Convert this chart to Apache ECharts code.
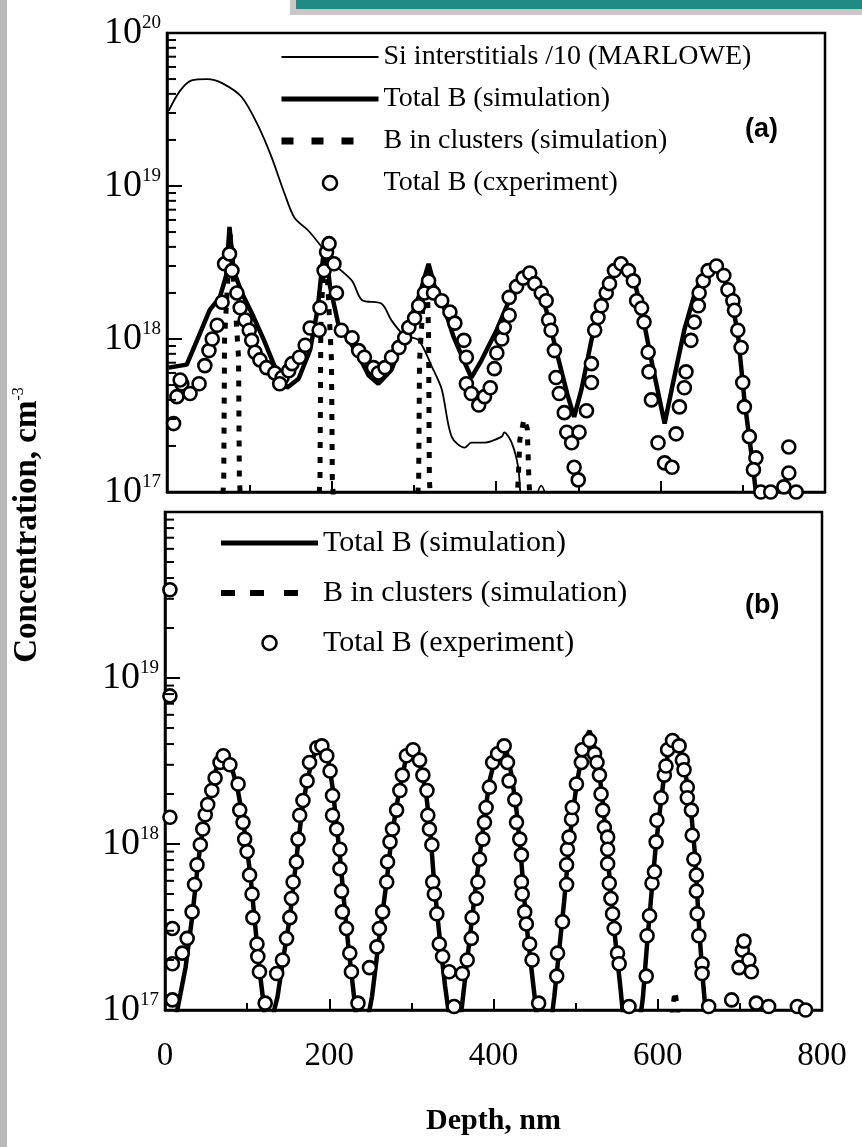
<!DOCTYPE html>
<html>
<head>
<meta charset="utf-8">
<script src="https://cdn.jsdelivr.net/npm/echarts@6/dist/echarts.min.js"></script>
<style>
html,body{margin:0;padding:0;background:#fff;}
#chart{width:862px;height:1147px;}
</style>
</head>
<body>
<div id="chart"></div>
<script>
// ---------- data (depth in nm, concentration in cm^-3) ----------
const depthTicks = [0, 200, 400, 600, 800];
const logMinorTicks = [2e17,3e17,4e17,5e17,6e17,7e17,8e17,9e17,
                       2e18,3e18,4e18,5e18,6e18,7e18,8e18,9e18,
                       2e19,3e19,4e19,5e19,6e19,7e19,8e19,9e19];

// Panel (a)
const siInterstitialsA = [
 [2,3.1e19],[16,4.2e19],[30,4.9e19],[49,5.0e19],[67,4.7e19],[91,3.8e19],[112,2.4e19],[127,1.55e19],
 [143,8.9e18],[155,6.2e18],[172,5.1e18],[188,4.0e18],[203,3.1e18],[225,2.4e18],[237,1.8e18],[261,1.7e18],
 [273,1.32e18],[289,1.05e18],[306,9.8e17],[322,6.6e17],[334,4.7e17],[346,2.3e17],[362,1.95e17],[370,2.1e17],
 [386,2.1e17],[407,2.3e17],[410,2.45e17],[419,2.1e17],[427,1.45e17],[431,8.5e16],[440,6e16],[448,9e16],
 [455,1.1e17],[462,9e16],[470,6e16]
];
const totalBSimA = [
 [2,6.5e17],[24,6.8e17],[42,1.15e18],[52,1.55e18],[64,1.86e18],[72,2.6e18],[76,5.4e18],[81,2.8e18],
 [91,2.0e18],[103,1.48e18],[118,9.8e17],[134,6.0e17],[146,4.8e17],[160,5.5e17],[174,8.5e17],[183,1.55e18],
 [192,4.4e18],[198,2.24e18],[209,1.2e18],[221,9.8e17],[233,7.8e17],[245,5.8e17],[257,5.1e17],[273,6.3e17],
 [291,1.15e18],[307,1.95e18],[318,3.1e18],[325,2.24e18],[336,1.66e18],[348,1.05e18],[361,7.2e17],[370,5.6e17],
 [382,7.2e17],[401,1.15e18],[419,1.95e18],[431,2.4e18],[439,2.7e18],[449,2.4e18],[461,1.55e18],[473,8.5e17],
 [487,4.3e17],[495,3.1e17],[504,4.7e17],[516,9.8e17],[528,1.8e18],[540,2.6e18],[552,3.1e18],[565,2.8e18],
 [577,1.55e18],[589,7.2e17],[605,2.8e17],[616,5.4e17],[629,1.15e18],[643,2.1e18],[656,2.8e18],[665,3.1e18],
 [676,2.6e18],[686,1.8e18],[694,1.1e18],[702,4.0e17],[710,1.86e17],[716,1.0e17],[722,6e16]
];
const clustersA = [
 [60,5e16],[67,8e16],[69,1.2e17],[70,1.0e18],[74,2.5e18],[77,4.8e18],[82,2.0e18],[87,7.5e17],[88,1.2e17],[90,8e16],
 [130,5e16],
 [184,8e16],[186,1.2e17],[187,1.15e18],[190,3.0e18],[192,4.2e18],[196,2.0e18],[200,7.2e17],[201,1.2e17],[203,8e16],
 [250,5e16],
 [304,8e16],[306,1.2e17],[307,7.2e17],[311,1.6e18],[316,2.8e18],[318,1.1e18],[319,1.2e17],[321,8e16],
 [370,5e16],
 [425,8e16],[427,1.2e17],[429,2.2e17],[434,3.0e17],[438,2.6e17],[440,1.2e17],[442,8e16],
 [500,5e16]
];
const expA = [
 [8,2.8e17],[12,4.2e17],[18,5.1e17],[16,5.4e17],[28,4.4e17],[39,5.1e17],[46,6.7e17],[51,8.4e17],[55,1.0e18],
 [61,1.23e18],[67,1.74e18],[70,3.1e18],[76,3.6e18],[79,2.8e18],[85,2.0e18],[89,1.6e18],[95,1.33e18],[100,1.14e18],
 [103,9.8e17],[107,8.2e17],[113,7.3e17],[121,6.5e17],[131,6.0e17],[140,5.6e17],[137,5.1e17],[148,6.2e17],
 [152,6.9e17],[161,7.6e17],[168,9.1e17],[174,1.18e18],[185,1.14e18],[186,1.6e18],[191,2.8e18],[194,3.7e18],
 [197,4.2e18],[203,3.1e18],[206,2.0e18],[212,1.14e18],[225,1.02e18],[233,8.4e17],[240,7.6e17],[251,6.5e17],
 [257,6.0e17],[265,6.5e17],[273,7.6e17],[282,8.8e17],[289,1.02e18],[294,1.19e18],[301,1.37e18],[306,1.65e18],
 [313,2.0e18],[318,2.4e18],[324,2.0e18],[334,1.78e18],[344,1.5e18],[350,1.27e18],[361,9.8e17],[364,7.6e17],
 [364,5.1e17],[370,4.4e17],[379,3.7e17],[386,4.2e17],[393,4.8e17],[398,6.4e17],[401,8.1e17],[407,1.0e18],
 [410,1.19e18],[416,1.43e18],[416,1.87e18],[425,2.2e18],[433,2.5e18],[441,2.7e18],[447,2.3e18],[455,2.0e18],
 [461,1.78e18],[464,1.33e18],[467,1.14e18],[471,8.4e17],[473,5.6e17],[477,4.4e17],[483,3.3e17],[486,2.46e17],
 [501,2.46e17],[492,2.1e17],[495,1.45e17],[500,1.2e17],[510,3.4e17],[516,5.2e17],[516,6.9e17],[520,1.14e18],
 [524,1.38e18],[528,1.65e18],[534,2.0e18],[538,2.3e18],[544,2.8e18],[552,3.1e18],[561,2.8e18],[567,2.4e18],
 [571,1.78e18],[577,1.59e18],[580,1.29e18],[585,8.2e17],[586,6.1e17],[589,4.0e17],[597,2.1e17],[605,1.55e17],
 [614,1.45e17],[619,2.4e17],[623,3.6e17],[629,4.8e17],[631,6.1e17],[637,9.8e17],[641,1.29e18],[646,1.65e18],
 [647,2.0e18],[652,2.4e18],[658,2.8e18],[668,3.0e18],[677,2.6e18],[682,2.1e18],[688,1.78e18],[690,1.54e18],
 [694,1.14e18],[698,8.8e17],[700,5.2e17],[702,3.6e17],[708,2.3e17],[716,1.67e17],[713,1.4e17],[722,1.0e17],
 [756,1.97e17],[756,1.33e17],[750,1.08e17],[765,1.0e17],[734,1.0e17]
];

// Panel (b)
const totalBSimB = [
 [4,5e16],[15,1.0e17],[25,1.8e17],[33,3.6e17],[40,7.5e17],[46,1.25e18],[52,1.8e18],[58,2.4e18],[64,3.0e18],
 [70,3.4e18],[76,3.3e18],[82,2.8e18],[88,2.2e18],[94,1.5e18],[99,1.0e18],[104,6.5e17],[108,4.0e17],[112,2.5e17],
 [116,1.6e17],[120,1.1e17],[126,5e16],
 [133,1.0e17],[137,1.2e17],[145,2.2e17],[152,3.6e17],[157,6.0e17],[162,1.0e18],[167,1.6e18],[173,2.4e18],
 [180,3.3e18],[187,3.9e18],[192,4.0e18],[198,3.4e18],[204,2.2e18],[209,1.3e18],[214,7.5e17],[218,4.5e17],
 [223,2.5e17],[228,1.5e17],[232,1.0e17],[240,5e16],
 [249,1.0e17],[252,1.2e17],[259,2.3e17],[265,3.9e17],[270,6.0e17],[275,1.0e18],[281,1.6e18],[287,2.3e18],
 [293,3.2e18],[300,3.8e18],[306,3.6e18],[312,2.8e18],[318,2.0e18],[323,1.2e18],[327,6.5e17],[331,4.0e17],
 [336,2.3e17],[341,1.4e17],[345,1.0e17],[352,5e16],
 [360,9e16],[362,1.1e17],[368,2.0e17],[374,3.6e17],[380,6.5e17],[385,1.0e18],[390,1.6e18],[396,2.5e18],
 [403,3.4e18],[410,4.0e18],[416,3.6e18],[422,2.6e18],[428,1.6e18],[433,9.0e17],[437,5.0e17],[441,3.0e17],
 [446,1.8e17],[451,1.1e17],[460,5e16],
 [472,1.0e17],[474,1.2e17],[480,2.3e17],[486,4.5e17],[491,8.5e17],[496,1.5e18],[502,2.4e18],[508,3.5e18],
 [514,4.5e18],[517,4.8e18],[522,4.0e18],[528,2.9e18],[533,1.8e18],[537,1.1e18],[541,6.5e17],[545,3.8e17],
 [550,2.2e17],[555,1.3e17],[558,9e16],[568,5e16],
 [580,1.0e17],[582,1.2e17],[587,2.5e17],[592,4.8e17],[597,9.0e17],[602,1.5e18],[607,2.4e18],[612,3.4e18],
 [618,4.3e18],[624,4.1e18],[630,3.3e18],[636,2.3e18],[641,1.5e18],[645,9.0e17],[648,5.0e17],[651,2.8e17],
 [655,1.5e17],[659,9e16],[666,5e16]
];
const clustersB = [
 [560,5e16],[612,6e16],[618,1.0e17],[621,1.3e17],[624,1.0e17],[630,6e16],[700,5e16]
];
const expB = [
 [6,3.4e19],[6,7.8e18],[6,1.45e18],[9,3.1e17],[9,1.9e17],[9,1.15e17],
 [21,2.2e17],[27,2.7e17],[33,3.9e17],[36,5.7e17],[39,7.5e17],[43,9.9e17],[46,1.23e18],[49,1.5e18],[52,1.73e18],
 [57,2.1e18],[61,2.5e18],[67,3.1e18],[71,3.4e18],[79,3.0e18],[89,2.3e18],[91,1.6e18],[95,1.35e18],[97,1.07e18],
 [100,9.0e17],[103,6.5e17],[106,5.0e17],[107,3.6e17],[112,2.5e17],[113,2.1e17],[115,1.7e17],[122,1.1e17],
 [136,1.66e17],[143,2.0e17],[148,2.7e17],[152,3.6e17],[154,4.7e17],[156,5.9e17],[160,7.8e17],[162,1.07e18],
 [164,1.49e18],[168,1.83e18],[173,2.4e18],[176,3.1e18],[185,3.8e18],[191,3.9e18],[197,3.4e18],[201,2.75e18],
 [204,1.96e18],[204,1.49e18],[209,1.23e18],[213,9.3e17],[213,7.1e17],[215,5.2e17],[216,3.9e17],[221,3.1e17],
 [225,2.2e17],[227,1.7e17],[235,1.1e17],
 [249,1.8e17],[258,2.4e17],[261,3.1e17],[265,3.9e17],[270,5.9e17],[271,7.8e17],[274,1.03e18],[277,1.23e18],
 [282,1.6e18],[286,2.1e18],[289,2.6e18],[294,3.4e18],[302,3.7e18],[310,3.2e18],[314,2.6e18],[319,2.1e18],
 [320,1.49e18],[322,1.23e18],[325,9.9e17],[326,5.9e17],[328,5.0e17],[331,3.8e17],[334,2.5e17],[338,2.1e17],
 [346,1.7e17],[352,1.05e17],
 [362,1.66e17],[368,2.0e17],[373,2.7e17],[374,3.6e17],[379,4.7e17],[381,5.9e17],[383,8.1e17],[387,1.07e18],
 [389,1.35e18],[391,1.66e18],[395,2.2e18],[399,3.1e18],[405,3.5e18],[413,3.9e18],[417,3.1e18],[419,2.4e18],
 [426,1.85e18],[428,1.35e18],[432,1.07e18],[434,8.6e17],[434,5.9e17],[435,5.0e17],[438,3.9e17],[440,3.3e17],
 [444,2.5e17],[447,2.0e17],[455,1.1e17],
 [477,1.6e17],[478,2.2e17],[484,3.4e17],[489,5.7e17],[489,7.5e17],[490,9.3e17],[492,1.1e18],[495,1.41e18],
 [496,1.66e18],[501,2.3e18],[507,3.1e18],[508,3.7e18],[517,4.2e18],[523,3.5e18],[526,3.1e18],[529,2.6e18],
 [531,2.0e18],[533,1.6e18],[535,1.26e18],[539,1.1e18],[539,9.3e17],[539,7.6e17],[541,5.8e17],[543,4.7e17],
 [545,3.8e17],[547,3.1e17],[551,2.2e17],[553,1.9e17],[565,1.05e17],
 [586,1.6e17],[587,2.8e17],[590,3.7e17],[593,5.8e17],[596,6.8e17],[598,1.03e18],[599,1.39e18],[604,1.9e18],
 [608,2.6e18],[610,2.95e18],[612,3.7e18],[618,4.2e18],[626,3.9e18],[630,3.2e18],[632,2.8e18],[636,2.2e18],
 [636,1.9e18],[641,1.6e18],[642,1.13e18],[644,8.1e17],[647,6.5e17],[647,5.2e17],[648,3.8e17],[650,2.8e17],
 [654,1.9e17],[654,1.66e17],[662,1.05e17],
 [699,1.8e17],[703,2.3e17],[705,2.6e17],[711,2.0e17],[714,1.7e17],[690,1.15e17],[720,1.1e17],[735,1.05e17],
 [770,1.05e17],[780,1.0e17]
];

// ---------- chart ----------
const black = '#000';
const serif = '"Liberation Serif", "Times New Roman", serif';
function yLabel(hideTop) {
  return function (v) {
    const e = Math.round(Math.log10(v));
    if (hideTop && e === 20) return '';
    return '{b|10}{s|' + e + '}';
  };
}
const yRich = {
  b: { fontFamily: serif, fontSize: 38, color: black },
  s: { fontFamily: serif, fontSize: 19, color: black, verticalAlign: 'top' }
};
function xAxisDef(gridIndex, showLabels) {
  return {
    type: 'value', gridIndex: gridIndex, min: 0, max: 800, interval: 200,
    axisLine: { show: true, onZero: false, lineStyle: { color: black, width: 2.5 } },
    axisTick: { show: true, inside: true, length: 11, lineStyle: { color: black, width: 2 } },
    minorTick: { show: true, splitNumber: 2, length: 7, lineStyle: { color: black, width: 2 } },
    splitLine: { show: false },
    axisLabel: { show: showLabels, margin: 30, fontFamily: serif, fontSize: 33, color: black },
    name: showLabels ? 'Depth, nm' : '',
    nameLocation: 'middle', nameGap: 96,
    nameTextStyle: { fontFamily: serif, fontSize: 30, fontWeight: 'bold', color: black }
  };
}
function yAxisDef(gridIndex, hideTop) {
  return {
    type: 'log', logBase: 10, gridIndex: gridIndex, min: 1e17, max: 1e20,
    axisLine: { show: true, onZero: false, lineStyle: { color: black, width: 2.5 } },
    axisTick: { show: true, inside: true, length: 15, lineStyle: { color: black, width: 2 } },
    splitLine: { show: false },
    axisLabel: { margin: 6, formatter: yLabel(hideTop), rich: yRich }
  };
}
function minorTickSeries(idx) {
  return {
    type: 'custom', xAxisIndex: idx, yAxisIndex: idx, silent: true, clip: false, z: 5,
    data: logMinorTicks.map(function (v) { return [0, v]; }),
    renderItem: function (params, api) {
      const p = api.coord([0, api.value(1)]);
      return { type: 'line', shape: { x1: p[0], y1: p[1], x2: p[0] + 9, y2: p[1] },
               style: { stroke: black, lineWidth: 2 } };
    }
  };
}
const expStyle = { color: '#fff', borderColor: black, borderWidth: 2.6, opacity: 1 };
const legendText = { fontFamily: serif, color: black };
const noDot = { color: 'rgba(0,0,0,0)', borderWidth: 0, opacity: 0 };

const option = {
  backgroundColor: '#fff',
  animation: false,
  grid: [
    { left: 167, top: 33, width: 658, height: 459, show: true, borderColor: black, borderWidth: 2.5, backgroundColor: 'transparent' },
    { left: 165, top: 512, width: 657, height: 498, show: true, borderColor: black, borderWidth: 2.5, backgroundColor: 'transparent' }
  ],
  xAxis: [xAxisDef(0, false), xAxisDef(1, true)],
  yAxis: [yAxisDef(0, false), yAxisDef(1, true)],
  legend: [
    {
      orient: 'vertical', left: 278, top: 43, padding: 0, itemWidth: 97, itemHeight: 14, itemGap: 14,
      selectedMode: false,
      textStyle: Object.assign({ fontSize: 28, lineHeight: 28 }, legendText),
      data: [
        { name: 'Si interstitials /10 (MARLOWE)', itemStyle: noDot, lineStyle: { color: black, width: 2 } },
        { name: 'Total B (simulation)', itemStyle: noDot, lineStyle: { color: black, width: 5 } },
        { name: 'B in clusters (simulation)', itemStyle: noDot, lineStyle: { color: black, width: 7, type: [12, 18, 12, 18, 12, 30] } },
        { name: 'Total B (cxperiment)', itemStyle: { color: '#fff', borderColor: black, borderWidth: 2.6, opacity: 1 } }
      ]
    },
    {
      orient: 'vertical', left: 218, top: 528, padding: 0, itemWidth: 97, itemHeight: 14, itemGap: 20,
      selectedMode: false,
      textStyle: Object.assign({ fontSize: 30, lineHeight: 30 }, legendText),
      data: [
        { name: 'Total B (simulation)', itemStyle: noDot, lineStyle: { color: black, width: 5 } },
        { name: 'B in clusters (simulation)', itemStyle: noDot, lineStyle: { color: black, width: 6, type: [14, 15, 14, 20, 14, 40] } },
        { name: 'Total B (experiment)', itemStyle: { color: '#fff', borderColor: black, borderWidth: 2.6, opacity: 1 } }
      ]
    }
  ],
  graphic: [
    { type: 'rect', left: 0, top: 0, shape: { width: 7, height: 1147 }, style: { fill: '#b8b8b8' }, z: 100 },
    { type: 'rect', left: 290, top: 0, shape: { width: 572, height: 15 }, style: { fill: '#c8c8c8' }, z: 100 },
    { type: 'rect', left: 296, top: 0, shape: { width: 566, height: 9 }, style: { fill: '#1f8a84' }, z: 101 },
    { type: 'text', left: 745, top: 116, style: { text: '(a)', fontFamily: '"Liberation Sans", Arial, sans-serif', fontWeight: 'bold', fontSize: 27, fill: black }, z: 50 },
    { type: 'text', left: 745, top: 592, style: { text: '(b)', fontFamily: '"Liberation Sans", Arial, sans-serif', fontWeight: 'bold', fontSize: 27, fill: black }, z: 50 },
    { type: 'text', x: 27, y: 525, rotation: Math.PI / 2, z: 50,
      style: { text: '{t|Concentration, cm}{s|-3}', align: 'center', verticalAlign: 'middle',
               rich: { t: { fontFamily: serif, fontWeight: 'bold', fontSize: 33, fill: black },
                       s: { fontFamily: serif, fontSize: 16, fill: black, verticalAlign: 'top' } } } }
  ],
  series: [
    minorTickSeries(0), minorTickSeries(1),
    { name: 'Si interstitials /10 (MARLOWE)', type: 'line', xAxisIndex: 0, yAxisIndex: 0, data: siInterstitialsA,
      symbol: 'none', smooth: 0.3, clip: true, lineStyle: { color: black, width: 1.8 }, itemStyle: { color: black }, z: 3 },
    { name: 'Total B (simulation)', type: 'line', xAxisIndex: 0, yAxisIndex: 0, data: totalBSimA,
      symbol: 'none', clip: true, lineStyle: { color: black, width: 4.5 }, itemStyle: { color: black }, z: 3 },
    { name: 'B in clusters (simulation)', type: 'line', xAxisIndex: 0, yAxisIndex: 0, data: clustersA,
      symbol: 'none', clip: true, lineStyle: { color: black, width: 5, type: [6, 9] }, itemStyle: { color: black }, z: 3 },
    { name: 'Total B (cxperiment)', type: 'scatter', xAxisIndex: 0, yAxisIndex: 0, data: expA,
      symbol: 'circle', symbolSize: 13, clip: true, itemStyle: expStyle, z: 4 },
    { name: 'Total B (simulation)', type: 'line', xAxisIndex: 1, yAxisIndex: 1, data: totalBSimB,
      symbol: 'none', clip: true, lineStyle: { color: black, width: 4.5 }, itemStyle: { color: black }, z: 3 },
    { name: 'B in clusters (simulation)', type: 'line', xAxisIndex: 1, yAxisIndex: 1, data: clustersB,
      symbol: 'none', clip: true, lineStyle: { color: black, width: 5, type: [6, 9] }, itemStyle: { color: black }, z: 3 },
    { name: 'Total B (experiment)', type: 'scatter', xAxisIndex: 1, yAxisIndex: 1, data: expB,
      symbol: 'circle', symbolSize: 13, clip: true, itemStyle: expStyle, z: 4 }
  ]
};
const chart = echarts.init(document.getElementById('chart'), null, { renderer: 'canvas' });
chart.setOption(option);
</script>
</body>
</html>
